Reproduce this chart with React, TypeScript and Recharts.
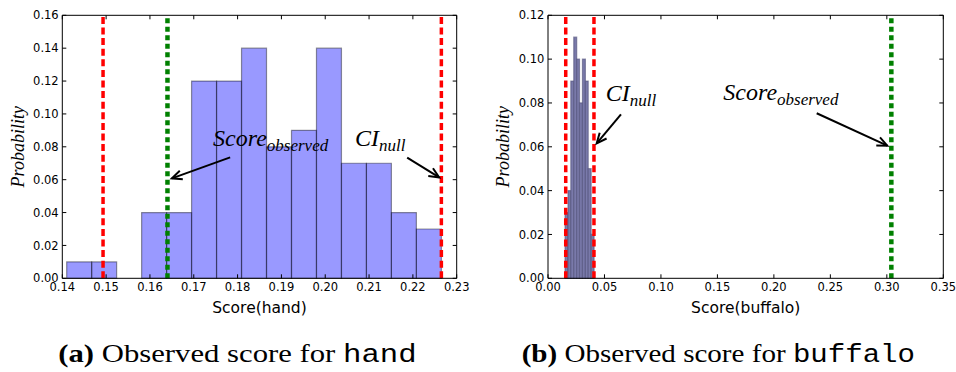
import React from "react"
import { ComposedChart, Line, XAxis, YAxis, ReferenceArea, ReferenceLine, ReferenceDot } from "recharts"

// panel (a): null distribution of scores for "hand"
const handBinEdges = [
    0.141, 0.1467, 0.1524, 0.1581, 0.1638, 0.1695, 0.1752, 0.1809, 0.1866, 0.1923, 0.198, 0.2037, 0.2094, 0.2151,
    0.2208, 0.2265,
]
const handProb = [0.01, 0.01, 0, 0.04, 0.04, 0.12, 0.12, 0.14, 0.08, 0.09, 0.14, 0.07, 0.07, 0.04, 0.03]
const handCI = [0.1493, 0.2265]
const handObserved = 0.164
const handXTicks = [0.14, 0.15, 0.16, 0.17, 0.18, 0.19, 0.2, 0.21, 0.22, 0.23]
const handYTicks = [0, 0.02, 0.04, 0.06, 0.08, 0.1, 0.12, 0.14, 0.16]

// panel (b): null distribution of scores for "buffalo"
const buffaloBinEdges = [0.0151, 0.0177, 0.0202, 0.0228, 0.0254, 0.0279, 0.0305, 0.0331, 0.0356, 0.0382, 0.0408]
const buffaloProb = [0.03, 0.04, 0.09, 0.11, 0.1, 0.08, 0.1, 0.09, 0.05, 0.02]
const buffaloCI = [0.0157, 0.0407]
const buffaloObserved = 0.304
const buffaloXTicks = [0, 0.05, 0.1, 0.15, 0.2, 0.25, 0.3, 0.35]
const buffaloYTicks = [0, 0.02, 0.04, 0.06, 0.08, 0.1, 0.12]

// annotations: [text x, text y], [arrow from x, y, to x, y]
const handScoreText = [0.1744, 0.0805]
const handScoreArrow = [0.1783, 0.0736, 0.165, 0.0608]
const handCIText = [0.2068, 0.0805]
const handCIArrow = [0.2187, 0.0734, 0.226, 0.0614]
const buffaloCIText = [0.0511, 0.0809]
const buffaloCIArrow = [0.0646, 0.0748, 0.0431, 0.0616]
const buffaloScoreText = [0.1552, 0.0813]
const buffaloScoreArrow = [0.2379, 0.0753, 0.3004, 0.0605]

const tickStyle = { fill: "#000", fontSize: 11.5, fontFamily: "DejaVu Sans" }
const fmt = (v: number) => v.toFixed(2)

const YLabel = ({ viewBox, text, dx }: any) => {
    const cx = viewBox.x + dx
    const cy = viewBox.y + viewBox.height / 2
    return (
        <text
            x={cx}
            y={cy}
            transform={`rotate(-90 ${cx} ${cy})`}
            textAnchor="middle"
            dominantBaseline="central"
            fontFamily="Liberation Serif"
            fontStyle="italic"
            fontSize={18}
        >
            {text}
        </text>
    )
}

const XLabel = ({ viewBox, text }: any) => (
    <text
        x={viewBox.x + viewBox.width / 2}
        y={viewBox.y + 35}
        textAnchor="middle"
        fontFamily="DejaVu Sans"
        fontSize={15.5}
        fill="#000"
    >
        {text}
    </text>
)

const mathText = (main: string, sub: string) => (p: any) => (
    <text x={p.cx} y={p.cy} fontFamily="Liberation Serif" fontStyle="italic" fontSize={24} fill="#000">
        {main}
        <tspan fontSize={17} dy={5}>
            {sub}
        </tspan>
    </text>
)

const Arrow = (p: any) => {
    const { x1, y1, x2, y2 } = p
    const ang = Math.atan2(y2 - y1, x2 - x1)
    const L = 11
    const a = 0.42
    const h1x = x2 + L * Math.cos(ang + Math.PI - a)
    const h1y = y2 + L * Math.sin(ang + Math.PI - a)
    const h2x = x2 + L * Math.cos(ang + Math.PI + a)
    const h2y = y2 + L * Math.sin(ang + Math.PI + a)
    return (
        <g>
            <line x1={x1} y1={y1} x2={x2} y2={y2} stroke="#000" strokeWidth={2} />
            <polyline points={`${h1x},${h1y} ${x2},${y2} ${h2x},${h2y}`} fill="none" stroke="#000" strokeWidth={2} />
        </g>
    )
}

// inward tick marks at both ends of a segment spanning the plot
const InTicks = (p: any) => {
    const { x1, y1, x2, y2 } = p
    const len = Math.hypot(x2 - x1, y2 - y1) || 1
    const ux = ((x2 - x1) / len) * 4
    const uy = ((y2 - y1) / len) * 4
    return (
        <g>
            <line x1={x1} y1={y1} x2={x1 + ux} y2={y1 + uy} stroke="#000" strokeWidth={1} />
            <line x1={x2} y1={y2} x2={x2 - ux} y2={y2 - uy} stroke="#000" strokeWidth={1} />
        </g>
    )
}

interface PanelProps {
    edges: number[]
    probs: number[]
    ci: number[]
    observed: number
    xTicks: number[]
    yTicks: number[]
    xLabel: string
    width: number
    yAxisWidth: number
    marginRight: number
    yLabelDx: number
    barFill: string
    barFillOpacity: number
    barStroke: string
    barStrokeOpacity: number
    texts: { pos: number[]; main: string; sub: string }[]
    arrows: number[][]
}

const Panel = (p: PanelProps) => {
    const xMin = p.xTicks[0]
    const xMax = p.xTicks[p.xTicks.length - 1]
    const yMin = p.yTicks[0]
    const yMax = p.yTicks[p.yTicks.length - 1]
    const rows = p.probs.map((v, i) => ({ x: (p.edges[i] + p.edges[i + 1]) / 2, p: v }))
    return (
        <ComposedChart width={p.width} height={320} data={rows} margin={{ top: 15.3, right: p.marginRight, bottom: 0, left: 0 }}>
            <XAxis
                dataKey="x"
                type="number"
                domain={[xMin, xMax]}
                ticks={p.xTicks}
                tickFormatter={fmt}
                allowDataOverflow
                height={41.7}
                stroke="#000"
                tickLine={false}
                tickSize={0}
                tickMargin={4.6}
                tick={tickStyle}
                interval={0}
                label={<XLabel text={p.xLabel} />}
            />
            <YAxis
                type="number"
                domain={[yMin, yMax]}
                ticks={p.yTicks}
                tickFormatter={fmt}
                allowDataOverflow
                width={p.yAxisWidth}
                stroke="#000"
                tickLine={false}
                tickSize={0}
                tickMargin={3.6}
                tick={tickStyle}
                interval={0}
                label={<YLabel text="Probability" dx={p.yLabelDx} />}
            />
            <Line dataKey="p" stroke="none" dot={false} activeDot={false} legendType="none" isAnimationActive={false} />
            {p.probs.map((v, i) =>
                v > 0 ? (
                    <ReferenceArea
                        key={`bin-${i}`}
                        x1={p.edges[i]}
                        x2={p.edges[i + 1]}
                        y1={0}
                        y2={v}
                        fill={p.barFill}
                        fillOpacity={p.barFillOpacity}
                        stroke={p.barStroke}
                        strokeOpacity={p.barStrokeOpacity}
                        strokeWidth={1.2}
                    />
                ) : null
            )}
            {p.ci.map((c, i) => (
                <ReferenceLine key={`ci-${i}`} x={c} stroke="#ff0000" strokeWidth={3.5} strokeDasharray="7 3.6" />
            ))}
            <ReferenceLine x={p.observed} stroke="#008000" strokeWidth={4.5} strokeDasharray="5 3.5" />
            <ReferenceLine y={yMax} stroke="#000" strokeWidth={1} />
            <ReferenceLine x={xMax} stroke="#000" strokeWidth={1} />
            {p.xTicks.map((t) => (
                <ReferenceLine
                    key={`xt-${t}`}
                    segment={[
                        { x: t, y: yMin },
                        { x: t, y: yMax },
                    ]}
                    shape={InTicks}
                />
            ))}
            {p.yTicks.map((t) => (
                <ReferenceLine
                    key={`yt-${t}`}
                    segment={[
                        { x: xMin, y: t },
                        { x: xMax, y: t },
                    ]}
                    shape={InTicks}
                />
            ))}
            {p.arrows.map((a, i) => (
                <ReferenceLine
                    key={`arrow-${i}`}
                    segment={[
                        { x: a[0], y: a[1] },
                        { x: a[2], y: a[3] },
                    ]}
                    shape={Arrow}
                />
            ))}
            {p.texts.map((t, i) => (
                <ReferenceDot key={`txt-${i}`} x={t.pos[0]} y={t.pos[1]} r={0} shape={mathText(t.main, t.sub)} />
            ))}
        </ComposedChart>
    )
}

export default function App() {
    return (
        <div style={{ position: "absolute", left: 0, top: 0, width: 956, height: 372, background: "#fff" }}>
            <div style={{ position: "absolute", left: 0, top: 0 }}>
                <Panel
                    edges={handBinEdges}
                    probs={handProb}
                    ci={handCI}
                    observed={handObserved}
                    xTicks={handXTicks}
                    yTicks={handYTicks}
                    xLabel="Score(hand)"
                    width={470}
                    yAxisWidth={62.3}
                    marginRight={13.3}
                    yLabelDx={18}
                    barFill="#0000ff"
                    barFillOpacity={0.4}
                    barStroke="#000"
                    barStrokeOpacity={0.4}
                    texts={[
                        { pos: handScoreText, main: "Score", sub: "observed" },
                        { pos: handCIText, main: "CI", sub: "null" },
                    ]}
                    arrows={[handScoreArrow, handCIArrow]}
                />
            </div>
            <div style={{ position: "absolute", left: 480, top: 0 }}>
                <Panel
                    edges={buffaloBinEdges}
                    probs={buffaloProb}
                    ci={buffaloCI}
                    observed={buffaloObserved}
                    xTicks={buffaloXTicks}
                    yTicks={buffaloYTicks}
                    xLabel="Score(buffalo)"
                    width={476}
                    yAxisWidth={68}
                    marginRight={12.7}
                    yLabelDx={23}
                    barFill="#7a7aaa"
                    barFillOpacity={1}
                    barStroke="#50507a"
                    barStrokeOpacity={0.6}
                    texts={[
                        { pos: buffaloCIText, main: "CI", sub: "null" },
                        { pos: buffaloScoreText, main: "Score", sub: "observed" },
                    ]}
                    arrows={[buffaloCIArrow, buffaloScoreArrow]}
                />
            </div>
            <svg style={{ position: "absolute", left: 0, top: 320 }} width={956} height={52}>
                <text x={58.3} y={42} textLength={358.4} lengthAdjust="spacingAndGlyphs" fontFamily="Liberation Serif" fontSize={25}>
                    <tspan fontWeight="bold">(a)</tspan> Observed score for <tspan fontFamily="Liberation Mono">hand</tspan>
                </text>
                <text x={521.7} y={42} textLength={393.3} lengthAdjust="spacingAndGlyphs" fontFamily="Liberation Serif" fontSize={25}>
                    <tspan fontWeight="bold">(b)</tspan> Observed score for <tspan fontFamily="Liberation Mono">buffalo</tspan>
                </text>
            </svg>
        </div>
    )
}
